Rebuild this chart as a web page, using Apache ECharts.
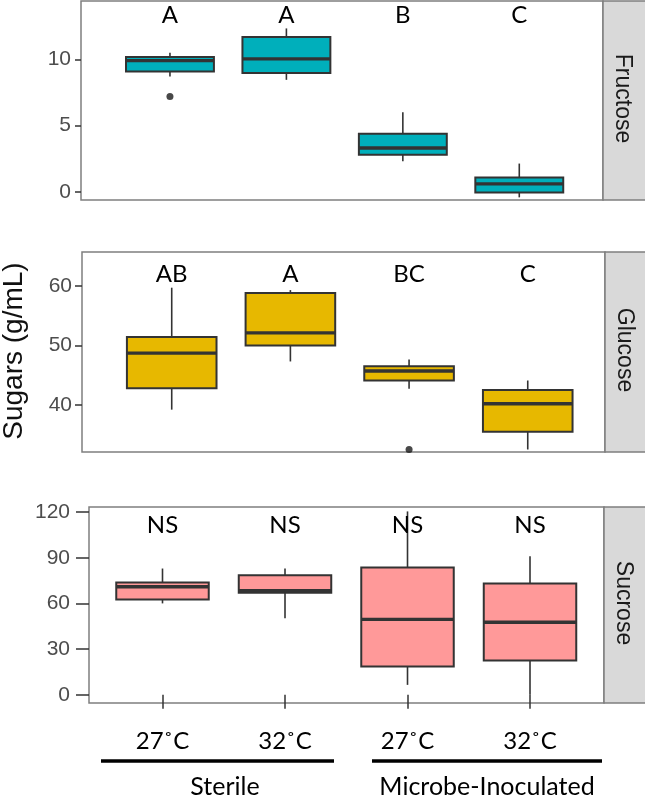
<!DOCTYPE html>
<html>
<head>
<meta charset="utf-8">
<script src="https://cdn.jsdelivr.net/npm/echarts@6/dist/echarts.min.js"></script>
<style>
html,body{margin:0;padding:0;background:#fff;}
#chart{width:645px;height:798px;}
</style>
</head>
<body>
<div id="chart"></div>
<script>
// ---- data ----
const categories = ['27˚C', '32˚C', '27˚C', '32˚C'];
const groups = ['Sterile', 'Microbe-Inoculated'];
const sugars = ['Fructose', 'Glucose', 'Sucrose'];
const yTitle = 'Sugars (g/mL)';
// [lower whisker, Q1, median, Q3, upper whisker]
const fructoseBoxes = [[8.7, 9.08, 9.9, 10.18, 10.5], [8.45, 8.96, 10.03, 11.68, 12.33], [2.3, 2.8, 3.3, 4.38, 6.0], [-0.42, -0.05, 0.6, 1.08, 2.13]];
const glucoseBoxes = [[39.2, 42.8, 48.7, 51.4, 59.7], [47.3, 50.0, 52.1, 58.8, 59.3], [42.7, 44.1, 45.7, 46.5, 47.65], [32.5, 35.5, 40.2, 42.5, 44.1]];
const sucroseBoxes = [[60.0, 62.6, 70.9, 73.8, 82.9], [50.2, 67.0, 68.3, 78.5, 82.9], [6.5, 18.5, 49.5, 83.6, 120.4], [0, 22.5, 47.6, 73.1, 91.0]];
// outliers: [category index (1-based), value]
const fructoseOutliers = [[1, 7.2]];
const glucoseOutliers = [[3, 32.5]];
const sucroseOutliers = [];
const fructoseLetters = ['A', 'A', 'B', 'C'];
const glucoseLetters = ['AB', 'A', 'BC', 'C'];
const sucroseLetters = ['NS', 'NS', 'NS', 'NS'];
const fructoseTicks = [0, 5, 10];
const glucoseTicks = [40, 50, 60];
const sucroseTicks = [0, 30, 60, 90, 120];
const xPositions = [1, 2, 3, 4];

// ---- styles / layout ----
const BOX_W = 0.755;
const colors = ['#00AFBB', '#E7B800', '#FF9999'];
const panels = [
  {boxes: fructoseBoxes, outliers: fructoseOutliers, letters: fructoseLetters, ticks: fructoseTicks,
   grid: {left: 81, top: 1, width: 522, height: 199}, ymin: -0.62, ymax: 14.4, xmin: 0.236, xmax: 4.719,
   tickLen: 6, labelMargin: 10, letterOffset: 14},
  {boxes: glucoseBoxes, outliers: glucoseOutliers, letters: glucoseLetters, ticks: glucoseTicks,
   grid: {left: 82, top: 252, width: 523, height: 200}, ymin: 32.08, ymax: 65.7, xmin: 0.244, xmax: 4.651,
   tickLen: 7, labelMargin: 10, letterOffset: 22},
  {boxes: sucroseBoxes, outliers: sucroseOutliers, letters: sucroseLetters, ticks: sucroseTicks,
   grid: {left: 89, top: 507, width: 515, height: 196}, ymin: -5.4, ymax: 123.3, xmin: 0.40, xmax: 4.604,
   tickLen: 13, labelMargin: 19, letterOffset: 18}
];

const grids = [], xAxes = [], yAxes = [], series = [];
panels.forEach((p, i) => {
  grids.push(Object.assign({show: true, borderColor: '#7f7f7f', borderWidth: 1.5, backgroundColor: '#fff'}, p.grid));
  const isBottom = i === panels.length - 1;
  xAxes.push({
    type: 'value', gridIndex: i, min: p.xmin, max: p.xmax,
    axisLine: {show: false}, splitLine: {show: false},
    axisTick: {show: isBottom, customValues: xPositions, length: 14, lineStyle: {color: '#333', width: 1.5}},
    axisLabel: {show: isBottom, customValues: xPositions, margin: 26,
      formatter: v => categories[Math.round(v) - 1] || '',
      fontFamily: 'Lato', fontSize: 24, color: '#000', lineHeight: 24}
  });
  yAxes.push({
    type: 'value', gridIndex: i, min: p.ymin, max: p.ymax,
    axisLine: {show: false}, splitLine: {show: false},
    axisTick: {show: true, customValues: p.ticks, length: p.tickLen, lineStyle: {color: '#333', width: 1.5}},
    axisLabel: {show: true, customValues: p.ticks, margin: p.labelMargin,
      fontFamily: 'Liberation Sans', fontSize: 21, color: '#4d4d4d'}
  });
  const color = colors[i];
  series.push({
    type: 'custom', xAxisIndex: i, yAxisIndex: i,
    data: p.boxes.map((b, k) => [xPositions[k]].concat(b)),
    encode: {x: 0, y: [1, 2, 3, 4, 5]},
    renderItem: function (params, api) {
      const x = api.value(0);
      const pLo = api.coord([x, api.value(1)]);
      const pQ1 = api.coord([x, api.value(2)]);
      const pMed = api.coord([x, api.value(3)]);
      const pQ3 = api.coord([x, api.value(4)]);
      const pHi = api.coord([x, api.value(5)]);
      const w = api.size([BOX_W, 0])[0];
      const cx = pLo[0];
      const stroke = '#333333';
      return {type: 'group', children: [
        {type: 'line', shape: {x1: cx, y1: pHi[1], x2: cx, y2: pQ3[1]}, style: {stroke, lineWidth: 1.6}},
        {type: 'line', shape: {x1: cx, y1: pQ1[1], x2: cx, y2: pLo[1]}, style: {stroke, lineWidth: 1.6}},
        {type: 'rect', shape: {x: cx - w / 2, y: pQ3[1], width: w, height: pQ1[1] - pQ3[1]}, style: {fill: color, stroke, lineWidth: 2}},
        {type: 'line', shape: {x1: cx - w / 2, y1: pMed[1], x2: cx + w / 2, y2: pMed[1]}, style: {stroke, lineWidth: 3.4}}
      ]};
    },
    silent: true, z: 2
  });
  series.push({
    type: 'scatter', xAxisIndex: i, yAxisIndex: i,
    data: p.outliers, symbolSize: 7, itemStyle: {color: '#1a1a1a'}, silent: true, z: 3
  });
  const off = p.letterOffset;
  series.push({
    type: 'custom', xAxisIndex: i, yAxisIndex: i,
    data: p.letters.map((t, k) => [xPositions[k], p.ymax, t]),
    encode: {x: 0, y: 1},
    renderItem: function (params, api) {
      const pt = api.coord([api.value(0), api.value(1)]);
      return {type: 'text', x: pt[0], y: pt[1] + off,
        style: {text: p.letters[params.dataIndex], fontFamily: 'Lato', fontSize: 24, fill: '#000', align: 'center', verticalAlign: 'middle'}};
    },
    silent: true, z: 4
  });
});

const graphic = [];
// y title
graphic.push({type: 'text', x: 14, y: 351, rotation: Math.PI / 2,
  style: {text: yTitle, fontFamily: 'Liberation Sans', fontSize: 28, fill: '#111', align: 'center', verticalAlign: 'middle'}});
// facet strips
panels.forEach((p, i) => {
  const g = p.grid;
  const x0 = g.left + g.width;
  graphic.push({type: 'rect', shape: {x: x0, y: g.top, width: 60, height: g.height},
    style: {fill: '#d9d9d9', stroke: '#7f7f7f', lineWidth: 1.5}});
  graphic.push({type: 'text', x: x0 + 19, y: g.top + g.height / 2 - 2, rotation: -Math.PI / 2,
    style: {text: sugars[i], fontFamily: 'Liberation Sans', fontSize: 23, fill: '#1a1a1a', align: 'center', verticalAlign: 'middle'}});
});
// group brackets
graphic.push({type: 'line', shape: {x1: 101, y1: 761, x2: 334, y2: 761}, style: {stroke: '#000', lineWidth: 3.3}});
graphic.push({type: 'line', shape: {x1: 372, y1: 761, x2: 602, y2: 761}, style: {stroke: '#000', lineWidth: 3.3}});
graphic.push({type: 'text', x: 225, y: 787, style: {text: groups[0], fontFamily: 'Lato', fontSize: 25, fill: '#000', align: 'center', verticalAlign: 'middle'}});
graphic.push({type: 'text', x: 487, y: 787, style: {text: groups[1], fontFamily: 'Lato', fontSize: 25, fill: '#000', align: 'center', verticalAlign: 'middle'}});

const chart = echarts.init(document.getElementById('chart'), null, {renderer: 'canvas'});
chart.setOption({
  animation: false,
  backgroundColor: '#fff',
  grid: grids, xAxis: xAxes, yAxis: yAxes, series: series, graphic: graphic
});
</script>
</body>
</html>
